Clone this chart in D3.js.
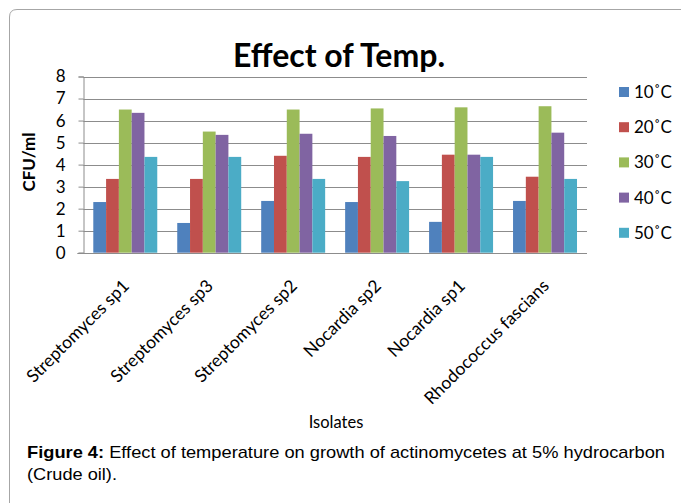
<!DOCTYPE html>
<html>
<head>
<meta charset="utf-8">
<script src="https://cdn.jsdelivr.net/npm/d3@7"></script>
<style>
  body { margin: 0; background: #fff; }
  text { font-family: Lato, "Open Sans", sans-serif; fill: #000; }
</style>
</head>
<body>
<script>
// Data.
const isolates = ["Streptomyces sp1", "Streptomyces sp3", "Streptomyces sp2",
  "Nocardia sp2", "Nocardia sp1", "Rhodococcus fascians"];
const temps = ["10˚C", "20˚C", "30˚C", "40˚C", "50˚C"];
const t10 = [2.3, 1.35, 2.35, 2.3, 1.4, 2.35];
const t20 = [3.35, 3.35, 4.4, 4.35, 4.45, 3.45];
const t30 = [6.5, 5.5, 6.5, 6.55, 6.6, 6.65];
const t40 = [6.35, 5.35, 5.4, 5.3, 4.45, 5.45];
const t50 = [4.35, 4.35, 3.35, 3.25, 4.35, 3.35];
const yTicks = [0, 1, 2, 3, 4, 5, 6, 7, 8];
const colors = ["#4F81BD", "#C0504D", "#9BBB59", "#8064A2", "#4BACC6"];

const series = [t10, t20, t30, t40, t50];
const width = 681, height = 503;
const plot = {left: 83.3, right: 587, top: 76.5, bottom: 252.7};

const svg = d3.select("body").append("svg")
  .attr("width", width)
  .attr("height", height);

// Chart frame (only top and left edges show in the crop).
svg.append("path")
  .attr("d", "M9.5," + height + " L9.5,17 Q9.5,9.5 17,9.5 L" + width + ",9.5")
  .attr("fill", "none")
  .attr("stroke", "#a6a6a6");

const x = d3.scaleBand().domain(isolates).range([plot.left, plot.right]).paddingInner(0.238).paddingOuter(0.119);
const xs = d3.scaleBand().domain(temps).range([0, x.bandwidth()]);
const y = d3.scaleLinear().domain([0, 8]).range([plot.bottom, plot.top]);

// Gridlines
svg.append("g").selectAll("line")
  .data(yTicks.slice(1))
  .join("line")
  .attr("x1", plot.left).attr("x2", plot.right)
  .attr("y1", d => Math.round(y(d)) + 0.5).attr("y2", d => Math.round(y(d)) + 0.5)
  .attr("stroke", "#8c8c8c");

// Y axis
const yAxis = svg.append("g")
  .attr("transform", "translate(" + (Math.round(plot.left) + 0.5) + ",0)")
  .call(d3.axisLeft(y).tickValues(yTicks).tickSize(5).tickPadding(13).tickFormat(d3.format("d")));
yAxis.select(".domain").attr("stroke", "#8c8c8c");
yAxis.selectAll(".tick line").attr("stroke", "#8c8c8c");
yAxis.selectAll(".tick text").style("font-size", "17px").style("font-family", "Lato");

// Bars
const groups = svg.append("g").selectAll("g")
  .data(isolates)
  .join("g")
  .attr("transform", d => "translate(" + x(d) + ",0)");
groups.selectAll("rect")
  .data((d, i) => temps.map((t, j) => ({t: t, v: series[j][i], c: colors[j]})))
  .join("rect")
  .attr("x", d => xs(d.t))
  .attr("width", xs.bandwidth())
  .attr("y", d => y(d.v))
  .attr("height", d => y(0) - y(d.v))
  .attr("fill", d => d.c);

// X axis line
svg.append("line")
  .attr("x1", plot.left - 6).attr("x2", plot.right)
  .attr("y1", Math.round(y(0)) + 0.5).attr("y2", Math.round(y(0)) + 0.5)
  .attr("stroke", "#8c8c8c");

// Rotated category labels
svg.append("g").selectAll("text")
  .data(isolates)
  .join("text")
  .attr("transform", d => "translate(" + (x(d) + x.bandwidth() / 2 + 5) + ",287) rotate(-45)")
  .attr("text-anchor", "end")
  .style("font-size", "17.5px")
  .text(d => d);

// Title
svg.append("text")
  .attr("x", 339).attr("y", 67)
  .attr("text-anchor", "middle")
  .style("font-size", "32px")
  .style("font-weight", "bold")
  .text("Effect of Temp.");

// Axis titles
svg.append("text")
  .attr("transform", "translate(35,162) rotate(-90)")
  .attr("text-anchor", "middle")
  .style("font-size", "17px")
  .style("font-weight", "bold")
  .text("CFU/ml");
svg.append("text")
  .attr("x", 336).attr("y", 428)
  .attr("text-anchor", "middle")
  .style("font-size", "16.5px")
  .text("Isolates");

// Legend
const legend = svg.append("g").selectAll("g")
  .data(temps)
  .join("g")
  .attr("transform", (d, i) => "translate(619," + (92 + i * 35.2) + ")");
legend.append("rect")
  .attr("x", 0).attr("y", -5).attr("width", 10).attr("height", 10)
  .attr("fill", (d, i) => colors[i]);
legend.append("text")
  .attr("x", 15).attr("y", 6)
  .style("font-size", "17px")
  .text(d => d);

// Figure caption
const cap = svg.append("g").style("font-family", "'Liberation Sans', Arial, sans-serif");
const line1 = cap.append("text")
  .attr("x", 27).attr("y", 458)
  .attr("textLength", 638).attr("lengthAdjust", "spacingAndGlyphs")
  .style("font-size", "17px")
  .style("font-family", "'Liberation Sans', Arial, sans-serif");
line1.append("tspan").style("font-weight", "bold").text("Figure 4:");
line1.append("tspan").text(" Effect of temperature on growth of actinomycetes at 5% hydrocarbon");
cap.append("text")
  .attr("x", 27).attr("y", 480)
  .attr("textLength", 90).attr("lengthAdjust", "spacingAndGlyphs")
  .style("font-size", "17px")
  .style("font-family", "'Liberation Sans', Arial, sans-serif")
  .text("(Crude oil).");
</script>
</body>
</html>
